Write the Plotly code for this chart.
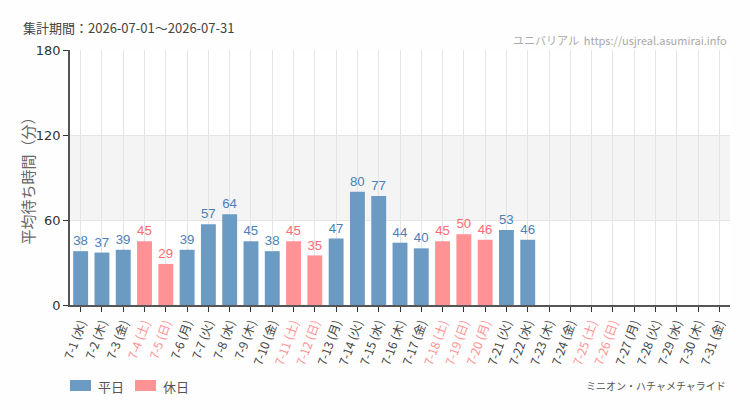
import plotly.graph_objects as go

days = list(range(1, 32))
weekdays = ["水","木","金","土","日","月","火"]
holidays = [4, 5, 11, 12, 18, 19, 20, 25, 26]
values = [38, 37, 39, 45, 29, 39, 57, 64, 45, 38, 45, 35, 47, 80, 77, 44, 40, 45, 50, 46, 53, 46,
          None, None, None, None, None, None, None, None, None]
y_ticks = [0, 60, 120, 180]
series_names = ["平日", "休日"]

BLUE = "#6b9bc3"
PINK = "#ff9294"
BLUE_T = "#4a80b8"
PINK_T = "#ff6b6e"

cats = [f"7-{d}" for d in days]
labels = [f"7-{d} ({weekdays[(d-1) % 7]})" for d in days]
ticktext = [f'<span style="color:{PINK}">{l}</span>' if d in holidays else l for d, l in zip(days, labels)]

wk_vals = [None if d in holidays else v for d, v in zip(days, values)]
hd_vals = [v if d in holidays else None for d, v in zip(days, values)]

numfont = "Liberation Sans, Arial, sans-serif"
cjk = "Noto Sans CJK JP, sans-serif"

fig = go.Figure()
fig.add_trace(go.Bar(x=cats, y=wk_vals, name=series_names[0], marker=dict(color=BLUE, line=dict(width=0)),
                     text=[None if v is None else str(v) for v in wk_vals], textposition="outside",
                     textfont=dict(color=BLUE_T, size=14, family=numfont), cliponaxis=False,
                     showlegend=False))
fig.add_trace(go.Bar(x=cats, y=hd_vals, name=series_names[1], marker=dict(color=PINK, line=dict(width=0)),
                     text=[None if v is None else str(v) for v in hd_vals], textposition="outside",
                     textfont=dict(color=PINK_T, size=14, family=numfont), cliponaxis=False,
                     showlegend=False))

fig.add_shape(type="rect", xref="paper", x0=0, x1=1, yref="y", y0=60, y1=120,
              fillcolor="#f4f4f4", line=dict(width=0), layer="below")

# plot area in pixels: x 70..730, y 50..305
PW, PH = 660.0, 255.0
def px(x):
    return (x - 70) / PW
def py(y):
    return (305 - y) / PH

# manual legend
for (x0, x1, col, tx, name) in [(70, 91, BLUE, 96, series_names[0]), (135, 156, PINK, 161, series_names[1])]:
    fig.add_shape(type="rect", xref="paper", yref="paper", x0=px(x0), x1=px(x1), y0=py(391), y1=py(380),
                  fillcolor=col, line=dict(width=0))
    fig.add_annotation(text=name, xref="paper", yref="paper", x=px(tx), y=py(386), xanchor="left",
                       yanchor="middle", showarrow=False, font=dict(size=13, color="#555", family=cjk))

fig.update_layout(
    width=750, height=410,
    margin=dict(l=70, r=20, t=50, b=105),
    paper_bgcolor="#fdfefd", plot_bgcolor="#ffffff",
    barmode="overlay", bargap=0.3,
    font=dict(family=cjk, color="#444"),
    showlegend=False,
    xaxis=dict(tickmode="array", tickvals=cats, ticktext=ticktext, tickangle=-70,
               tickfont=dict(size=12, color="#444", family=cjk),
               showgrid=True, gridcolor="#e4e4e4", gridwidth=1, automargin=False,
               ticks="outside", ticklen=5, tickcolor="#333",
               showline=True, linecolor="#555", linewidth=1.5),
    yaxis=dict(range=[0, 180], tickvals=y_ticks, ticks="outside", ticklen=5, tickcolor="#333",
               tickfont=dict(size=13, color="#333", family="DejaVu Sans, sans-serif"),
               showgrid=True, gridcolor="#e4e4e4", showline=True, linecolor="#555", linewidth=1.5,
               zeroline=False, automargin=False),
)

fig.add_annotation(text="平均待ち時間（分）", xref="paper", yref="paper", x=px(27), y=0.5,
                   xanchor="center", yanchor="middle", textangle=-90, showarrow=False,
                   font=dict(size=15, color="#666", family=cjk))
fig.add_annotation(text="集計期間：2026-07-01～2026-07-31", xref="paper", yref="paper",
                   x=px(21), y=py(27), xanchor="left", yanchor="middle",
                   showarrow=False, font=dict(size=13, color="#444", family=cjk))
fig.add_annotation(text="ユニバリアル  https://usjreal.asumirai.info", xref="paper", yref="paper",
                   x=px(729), y=py(40), xanchor="right", yanchor="middle",
                   showarrow=False, font=dict(size=11, color="#aaa", family=cjk))
fig.add_annotation(text="ミニオン・ハチャメチャライド", xref="paper", yref="paper",
                   x=px(728), y=py(385), xanchor="right", yanchor="middle",
                   showarrow=False, font=dict(size=10, color="#555", family=cjk))

fig.write_html("out.html")
